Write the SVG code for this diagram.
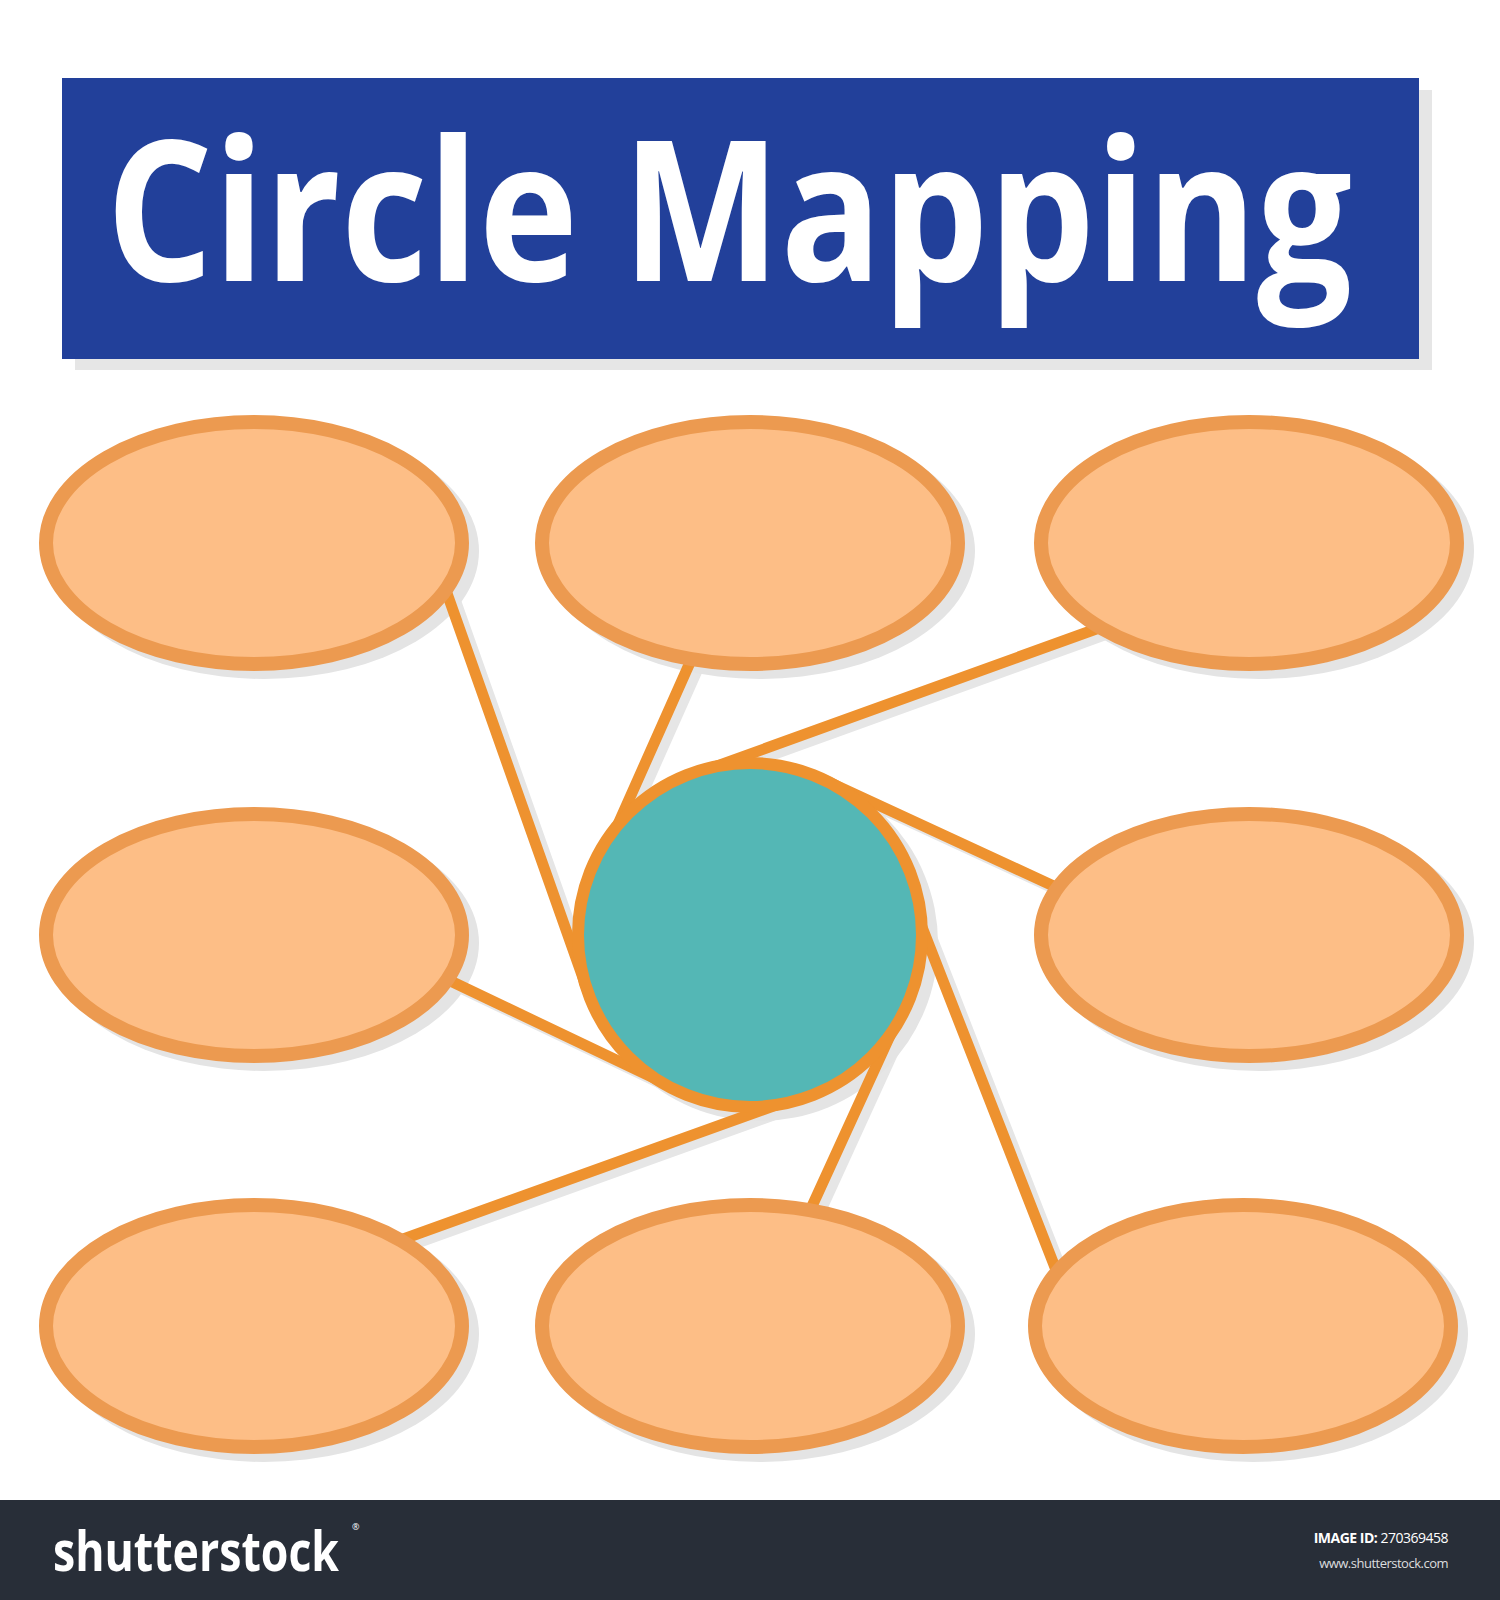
<svg xmlns="http://www.w3.org/2000/svg" width="1500" height="1600" viewBox="0 0 1500 1600">
<style>
.bub{fill:#FDBE86;stroke:#EC9A50;stroke-width:14}
.bubsh{fill:#E4E4E4}
.ln{stroke:#EE922F;stroke-width:11;stroke-linecap:round;fill:none}
.lnsh{stroke:#E6E6E6;stroke-width:11;stroke-linecap:round;fill:none}
.hub{fill:#54B7B5;stroke:#EE922F;stroke-width:12}
.title{font-family:"Open Sans","Liberation Sans",sans-serif;font-weight:700;fill:#FFFFFF}
.foot{font-family:"Open Sans","Liberation Sans",sans-serif;fill:#FFFFFF}
</style>
<rect x="0" y="0" width="1500" height="1600" fill="#FFFFFF"/>
<g id="title">
<rect x="75" y="90" width="1357" height="280" fill="#E6E6E6"/>
<rect x="62" y="78" width="1357" height="281" fill="#22409A"/>
<text class="title" x="106" y="281" font-size="196" textLength="1246" lengthAdjust="spacingAndGlyphs">Circle Mapping</text>
</g>
<g id="shadows">
<g transform="translate(8,6)">
<line class="lnsh" x1="443" y1="582" x2="588" y2="992"/>
<line class="lnsh" x1="700" y1="640" x2="599" y2="867"/>
<line class="lnsh" x1="1110" y1="624" x2="692" y2="775"/>
<line class="lnsh" x1="1060" y1="889" x2="822" y2="779"/>
<line class="lnsh" x1="440" y1="976" x2="677" y2="1089"/>
<line class="lnsh" x1="395" y1="1242" x2="807" y2="1094"/>
<line class="lnsh" x1="808" y1="1215" x2="904" y2="1005"/>
<line class="lnsh" x1="1058" y1="1275" x2="902" y2="876"/>
</g>
<g transform="translate(10,8)">
<ellipse class="bubsh" cx="254" cy="543" rx="215" ry="128"/>
<ellipse class="bubsh" cx="750" cy="543" rx="215" ry="128"/>
<ellipse class="bubsh" cx="1249" cy="543" rx="215" ry="128"/>
<ellipse class="bubsh" cx="254" cy="935" rx="215" ry="128"/>
<ellipse class="bubsh" cx="1249" cy="935" rx="215" ry="128"/>
<ellipse class="bubsh" cx="254" cy="1326" rx="215" ry="128"/>
<ellipse class="bubsh" cx="750" cy="1326" rx="215" ry="128"/>
<ellipse class="bubsh" cx="1243" cy="1326" rx="215" ry="128"/>
<circle class="bubsh" cx="750" cy="935" r="178"/>
</g>
</g>
<g id="connectors">
<line class="ln" x1="443" y1="582" x2="588" y2="992"/>
<line class="ln" x1="700" y1="640" x2="599" y2="867"/>
<line class="ln" x1="1110" y1="624" x2="692" y2="775"/>
<line class="ln" x1="1060" y1="889" x2="822" y2="779"/>
<line class="ln" x1="440" y1="976" x2="677" y2="1089"/>
<line class="ln" x1="395" y1="1242" x2="807" y2="1094"/>
<line class="ln" x1="808" y1="1215" x2="904" y2="1005"/>
<line class="ln" x1="1058" y1="1275" x2="902" y2="876"/>
</g>
<g id="node-top-left"><ellipse class="bub" cx="254" cy="543" rx="208" ry="121"/></g>
<g id="node-top-middle"><ellipse class="bub" cx="750" cy="543" rx="208" ry="121"/></g>
<g id="node-top-right"><ellipse class="bub" cx="1249" cy="543" rx="208" ry="121"/></g>
<g id="node-middle-left"><ellipse class="bub" cx="254" cy="935" rx="208" ry="121"/></g>
<g id="node-middle-right"><ellipse class="bub" cx="1249" cy="935" rx="208" ry="121"/></g>
<g id="node-bottom-left"><ellipse class="bub" cx="254" cy="1326" rx="208" ry="121"/></g>
<g id="node-bottom-middle"><ellipse class="bub" cx="750" cy="1326" rx="208" ry="121"/></g>
<g id="node-bottom-right"><ellipse class="bub" cx="1243" cy="1326" rx="208" ry="121"/></g>
<g id="node-center"><circle class="hub" cx="750" cy="935" r="172"/></g>
<g id="footer">
<rect x="0" y="1500" width="1500" height="100" fill="#282E38"/>
<text class="foot" x="53" y="1571" font-size="56" font-weight="700" textLength="286" lengthAdjust="spacingAndGlyphs">shutterstock</text>
<text class="foot" x="352" y="1530" font-size="9">®</text>
<text class="foot" x="1448" y="1543" font-size="14" text-anchor="end" letter-spacing="-0.5"><tspan font-weight="700">IMAGE ID:</tspan> 270369458</text>
<text class="foot" x="1448" y="1568" font-size="13" text-anchor="end" letter-spacing="-0.5" fill-opacity="0.85">www.shutterstock.com</text>
</g>
</svg>
